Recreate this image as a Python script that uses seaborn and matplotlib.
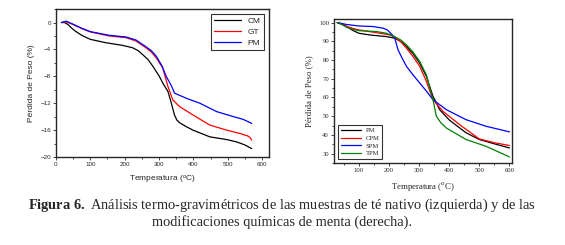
import numpy as np
import pandas as pd
import matplotlib
matplotlib.use("Agg")
import matplotlib.pyplot as plt
from matplotlib.ticker import MultipleLocator
import seaborn as sns

# left panel: native tea samples (weight loss %)
temp_cm = [16, 25, 35, 45, 57, 75, 100, 145, 194, 223, 240, 252, 268, 282, 301, 311, 326, 336, 345, 352, 360, 380, 399, 448, 497, 526, 550, 570]
loss_cm = [0, 0, -0.3, -0.8, -1.3, -1.9, -2.5, -3.0, -3.4, -3.75, -4.2, -4.75, -5.5, -6.5, -8, -9, -10.25, -12, -13.75, -14.5, -14.9, -15.5, -16, -17, -17.4, -17.75, -18.2, -18.75]
temp_gt = [16, 30, 50, 75, 100, 155, 204, 233, 262, 278, 292, 311, 326, 340, 360, 399, 448, 497, 536, 560, 565, 570]
loss_gt = [0, 0.1, -0.3, -0.9, -1.4, -2.0, -2.25, -2.75, -3.75, -4.4, -5.25, -6.75, -9.5, -11.5, -12.5, -13.75, -15.25, -16.0, -16.5, -16.9, -17.1, -17.5]
temp_pm = [16, 30, 50, 75, 100, 155, 204, 233, 262, 278, 292, 308, 321, 336, 339, 345, 379, 419, 468, 517, 545, 570]
loss_pm = [0, 0.2, -0.25, -0.85, -1.35, -1.9, -2.15, -2.6, -3.6, -4.2, -5.0, -6.4, -8.0, -9.4, -9.75, -10.5, -11.25, -12.0, -13.25, -14.0, -14.4, -15.0]

# right panel: chemically modified mint samples
temp_r_pm = [28, 45, 59, 80, 100, 136, 192, 219, 240, 258, 280, 302, 324, 346, 368, 401, 456, 500, 550, 600]
mass_r_pm = [100, 99.3, 97.9, 95.8, 94.3, 93.4, 92.5, 91.7, 89.8, 87.2, 83.3, 78.3, 71.2, 60.6, 53.5, 47.8, 41.1, 37.5, 35.2, 33.0]
temp_cpm = [28, 45, 59, 80, 100, 170, 203, 219, 240, 258, 280, 302, 324, 346, 379, 434, 500, 550, 600]
mass_cpm = [100, 99.2, 98.0, 96.9, 96.1, 94.3, 93.4, 92.2, 89.6, 86.3, 81.8, 76.6, 68.6, 58.8, 52.6, 45.5, 37.8, 35.8, 34.3]
temp_spm = [28, 59, 100, 147, 181, 195, 203, 212, 219, 230, 245, 258, 280, 302, 325, 346, 390, 456, 522, 600]
mass_spm = [100, 99.0, 98.2, 97.9, 97.0, 96.0, 94.7, 93.2, 91.7, 85.4, 80.5, 76.6, 72.0, 67.7, 63.2, 58.8, 53.5, 48.1, 44.6, 41.6]
temp_tpm = [28, 45, 59, 80, 100, 159, 192, 219, 240, 258, 280, 302, 324, 346, 357, 372, 390, 456, 522, 600]
mass_tpm = [100, 98.8, 97.5, 96.4, 95.7, 95.2, 94.3, 92.5, 90.6, 88.1, 84.2, 79.2, 72.1, 58.8, 50.0, 46.5, 43.7, 37.5, 33.9, 28.2]

left = pd.concat([
    pd.DataFrame({"T": temp_cm, "y": loss_cm, "s": "CM"}),
    pd.DataFrame({"T": temp_gt, "y": loss_gt, "s": "GT"}),
    pd.DataFrame({"T": temp_pm, "y": loss_pm, "s": "PM"}),
])
right = pd.concat([
    pd.DataFrame({"T": temp_r_pm, "y": mass_r_pm, "s": "PM"}),
    pd.DataFrame({"T": temp_cpm, "y": mass_cpm, "s": "CPM"}),
    pd.DataFrame({"T": temp_spm, "y": mass_spm, "s": "SPM"}),
    pd.DataFrame({"T": temp_tpm, "y": mass_tpm, "s": "TPM"}),
])

sns.set_style("ticks")
plt.rcParams["font.family"] = ["Liberation Sans", "DejaVu Sans"]
plt.rcParams["mathtext.fontset"] = "custom"
plt.rcParams["mathtext.rm"] = "Liberation Sans"
plt.rcParams["mathtext.it"] = "Liberation Sans:italic"
plt.rcParams["mathtext.bf"] = "Liberation Serif:bold"

fig = plt.figure(figsize=(5.65, 2.45), dpi=100)
ax1 = fig.add_axes([0.099, 0.359, 0.377, 0.604])
ax2 = fig.add_axes([0.591, 0.335, 0.315, 0.588])

sns.lineplot(data=left, x="T", y="y", hue="s", sort=False, estimator=None, ax=ax1,
             palette={"CM": "black", "GT": "red", "PM": "blue"}, linewidth=0.9)
ax1.set_xlim(0, 620)
ax1.set_ylim(-20, 2)
ax1.xaxis.set_major_locator(MultipleLocator(100))
ax1.xaxis.set_minor_locator(MultipleLocator(50))
ax1.yaxis.set_major_locator(MultipleLocator(4))
ax1.yaxis.set_minor_locator(MultipleLocator(2))
ax1.tick_params(which="both", labelsize=4.5, length=2, width=0.6, pad=1.5)
ax1.tick_params(which="minor", length=1.2)
ax1.set_xlabel("Temperatura ($^{o}$C)", fontsize=6, labelpad=5)
ax1.set_ylabel("Pérdida de Peso (%)", fontsize=6, labelpad=4)
for sp in ax1.spines.values():
    sp.set_visible(True)
    sp.set_linewidth(1.0)
leg = ax1.legend(loc="upper right", fontsize=6, frameon=True, fancybox=False,
                 handlelength=3.2, borderpad=0.4, labelspacing=0.35, borderaxespad=0.6)
leg.get_frame().set_edgecolor("black")
leg.get_frame().set_linewidth(0.8)

sns.lineplot(data=right, x="T", y="y", hue="s", sort=False, estimator=None, ax=ax2,
             palette={"PM": "black", "CPM": "red", "SPM": "blue", "TPM": "green"}, linewidth=0.9)
ax2.set_xlim(17, 608)
ax2.set_ylim(25, 102)
ax2.xaxis.set_major_locator(MultipleLocator(100))
ax2.xaxis.set_minor_locator(MultipleLocator(50))
ax2.yaxis.set_major_locator(MultipleLocator(10))
ax2.yaxis.set_minor_locator(MultipleLocator(5))
ax2.tick_params(which="both", labelsize=4.8, length=2, width=0.6, pad=1.5)
ax2.tick_params(which="minor", length=1.2)
for t in ax2.get_xticklabels() + ax2.get_yticklabels():
    t.set_family("Liberation Serif")
ax2.set_xlabel("Temperatura ($^{o}$C)", fontsize=6.3, family="Liberation Serif", labelpad=5)
ax2.set_ylabel("Pérdida de Peso (%)", fontsize=6.3, family="Liberation Serif", labelpad=4)
for sp in ax2.spines.values():
    sp.set_visible(True)
    sp.set_linewidth(1.0)
leg2 = ax2.legend(loc="lower left", frameon=True, fancybox=False,
                  handlelength=3.0, borderpad=0.4, labelspacing=0.3, borderaxespad=0.6,
                  prop={"family": "Liberation Serif", "size": 4.8})
leg2.get_frame().set_edgecolor("black")
leg2.get_frame().set_linewidth(0.8)

fig.text(0.5, 0.163, r"$\mathbf{Figura\ 6.}$ Análisis termo-gravimétricos de las muestras de té nativo (izquierda) y de las",
         ha="center", va="center", fontsize=10.4, family="Liberation Serif")
fig.text(0.5, 0.094, "modificaciones químicas de menta (derecha).",
         ha="center", va="center", fontsize=10.4, family="Liberation Serif")

fig.savefig("out.png", dpi=100)
